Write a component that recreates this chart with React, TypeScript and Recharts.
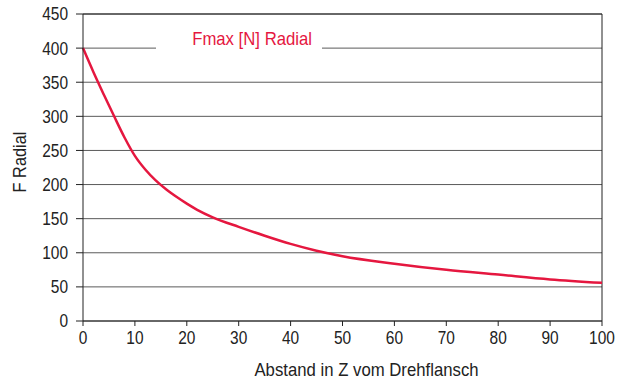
import React from 'react';
import { LineChart, Line, XAxis, YAxis, CartesianGrid, ReferenceLine, Legend } from 'recharts';

const distances = [0, 2, 4, 6, 8, 10, 12, 14, 16, 18, 20, 22, 25, 30, 35, 40, 45, 50, 60, 70, 80, 90, 100];
const forces = [400, 365, 332, 300, 269, 242, 222, 206, 193, 182, 172, 163, 152, 138, 125, 113, 103, 95, 84, 75, 68, 61, 56];
const xTicks = [0, 10, 20, 30, 40, 50, 60, 70, 80, 90, 100];
const yTicks = [0, 50, 100, 150, 200, 250, 300, 350, 400, 450];
const seriesName = 'Fmax [N] Radial';
const xTitle = 'Abstand in Z vom Drehflansch';
const yTitle = 'F Radial';

const data = distances.map((d, i) => ({ d, f: forces[i] }));

const FONT = '"Liberation Sans", Arial, Helvetica, sans-serif';
const RED = '#e5173f';
const AXIS = '#222';

const XTick = (props: any) => {
  const { x, y, payload } = props;
  return (
    <text
      transform={`translate(${x},${y}) scale(0.86,1)`}
      textAnchor="middle"
      dy="0.71em"
      fill={AXIS}
      fontFamily={FONT}
      fontSize={18}
    >
      {payload.value}
    </text>
  );
};

const YTick = (props: any) => {
  const { x, y, payload } = props;
  return (
    <text
      transform={`translate(${x},${y}) scale(0.86,1)`}
      textAnchor="end"
      dy="0.355em"
      fill={AXIS}
      fontFamily={FONT}
      fontSize={18}
    >
      {payload.value}
    </text>
  );
};

const LegendBox = () => (
  <div style={{ position: 'relative', width: 0, height: 0 }}>
    <div
      style={{
        position: 'absolute',
        left: 0,
        top: 0,
        background: '#fff',
        width: 166,
        height: 22,
        lineHeight: '22px',
        whiteSpace: 'nowrap',
        textAlign: 'center',
        color: RED,
        fontFamily: FONT,
        fontSize: 19,
      }}
    >
      <span style={{ display: 'inline-block', transform: 'translateX(13px) scaleX(0.88)' }}>{seriesName}</span>
    </div>
  </div>
);

export default function App() {
  return (
    <div style={{ position: 'absolute', left: 0, top: 0, width: 620, height: 385, background: '#fff' }}>
      <LineChart width={620} height={385} data={data} margin={{ top: 14, right: 18, left: 0, bottom: 34 }}>
        <CartesianGrid horizontal vertical={false} stroke="#5a5a5a" strokeWidth={1} />
        <XAxis
          dataKey="d"
          type="number"
          domain={[0, 100]}
          ticks={xTicks}
          interval={0}
          height={30}
          tickSize={5}
          tickMargin={5}
          stroke={AXIS}
          tick={<XTick />}
          label={{
            content: (p: any) => {
              const vb = p.viewBox || {};
              const cx = (vb.x ?? 0) + (vb.width ?? 0) / 2 + 24;
              const cy = (vb.y ?? 0) + (vb.height ?? 0) + 19;
              return (
                <text
                  transform={`translate(${cx},${cy}) scale(0.93,1)`}
                  textAnchor="middle"
                  dominantBaseline="central"
                  fill={AXIS}
                  fontFamily={FONT}
                  fontSize={18}
                >
                  {xTitle}
                </text>
              );
            },
          }}
        />
        <YAxis
          type="number"
          domain={[0, 450]}
          ticks={yTicks}
          interval={0}
          width={83}
          tickSize={7}
          tickMargin={8}
          stroke={AXIS}
          tick={<YTick />}
          label={{
            content: () => (
              <text
                transform="translate(20,162) rotate(-90) scale(0.91,1)"
                textAnchor="middle"
                dominantBaseline="central"
                fill={AXIS}
                fontFamily={FONT}
                fontSize={18}
              >
                {yTitle}
              </text>
            ),
          }}
        />
        <ReferenceLine x={100} stroke={AXIS} strokeWidth={1} />
        <ReferenceLine y={450} stroke={AXIS} strokeWidth={1} />
        <Legend
          verticalAlign="top"
          content={() => <LegendBox />}
          wrapperStyle={{ position: 'absolute', left: 156, top: 28, width: 0, height: 0 }}
        />
        <Line
          type="monotone"
          dataKey="f"
          name={seriesName}
          stroke={RED}
          strokeWidth={2.5}
          dot={false}
          isAnimationActive={false}
        />
      </LineChart>
    </div>
  );
}
